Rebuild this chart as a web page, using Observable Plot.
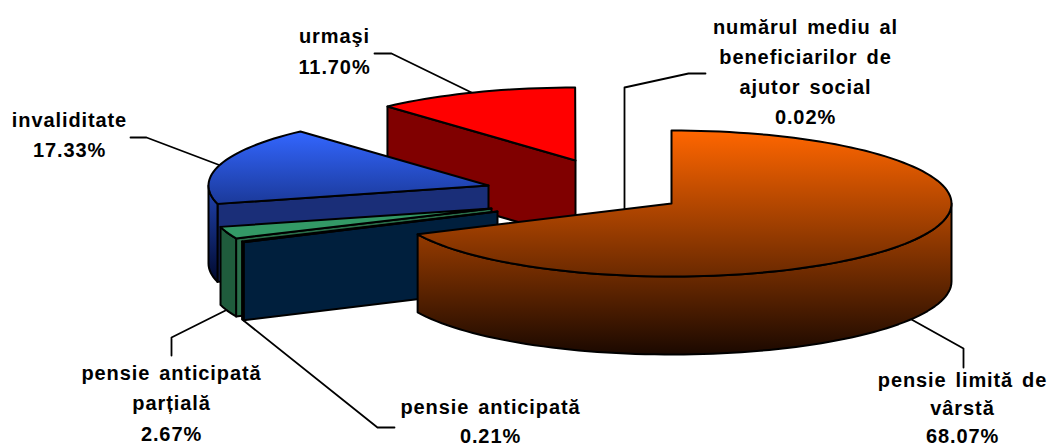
<!DOCTYPE html>
<html><head><meta charset="utf-8">
<script src="https://cdn.jsdelivr.net/npm/d3@7"></script>
<script src="https://cdn.jsdelivr.net/npm/@observablehq/plot@0.6"></script>
<style>html,body{margin:0;padding:0;background:#fff}svg{display:block}svg text{letter-spacing:.9px;word-spacing:2.5px}</style>
</head><body><div id="chart"></div>
<script>
// data, clockwise from the top of the pie
const categories = ["pensie limită de vârstă","pensie anticipată","pensie anticipată parțială","invaliditate","urmași","numărul mediu al beneficiarilor de ajutor social"];
const shares = [68.07,0.21,2.67,17.33,11.70,0.02];
// label lines per slice
const labelLines = [
  ["pensie limită de","vârstă"],
  ["pensie anticipată"],
  ["pensie anticipată","parțială"],
  ["invaliditate"],
  ["urmaşi"],
  ["numărul mediu al","beneficiarilor de","ajutor social"]
];
// layout of the exploded pie
const apexX = [671,497,491,488,575];
const apexY = [203,211,208,185,160];
const radiusX = 280, radiusY = 73, depth = 78;
const topFills = ["url(#gOrange)","#00122a","#339966","url(#gBlue)","#ff0000"];
const faceFills = ["none","#001f3d","#2a6e4a","#1a2e78","#800000"];
const wallFills = ["url(#gOrange)","#001f3d","#1f5c3c","url(#gBlue)","#800000"];
const labelX = [962,490,171,69,334,805];
const labelY = [380,407,373,120,36,27];
const lineGap = [28,29,30.5,30,31,30];
const leaders = [
  [[911,319],[963,348],[963,367]],
  [[243,320],[377,427],[394,427]],
  [[225,310],[171,337],[171,355]],
  [[220,165],[146,137],[130,137]],
  [[473,93],[391,53],[374,53]],
  [[624,210],[624,87],[688,73],[705,73]]
];

const starts = [];
shares.reduce((s,v,i)=>{starts[i]=s;return s+v;},0);
const rad = d => d*3.6*Math.PI/180;
const pt = (i,p) => [apexX[i]+radiusX*Math.sin(rad(p)), apexY[i]-radiusY*Math.cos(rad(p))];
function arc(i,a,b){const n=Math.max(2,Math.ceil(Math.abs(b-a)*3.6/2));return d3.range(n+1).map(k=>pt(i,a+(b-a)*k/n));}
const drop = ps => ps.map(([x,y])=>[x,y+depth]);

const poly = (ps,fill,sw=2) => Plot.line(ps,{x:d=>d[0],y:d=>d[1],fill,stroke:"#000",strokeWidth:sw,strokeLinejoin:"round",curve:"linear-closed"});

function sliceMarks(i){
  const a = starts[i], b = a+shares[i], out = [];
  const ap = [apexX[i],apexY[i]];
  if (a>0){ const p = pt(i,a); out.push(poly([ap,p,[p[0],p[1]+depth],[ap[0],ap[1]+depth]],faceFills[i])); }
  const wa = Math.max(a,25), wb = Math.min(b,75);
  if (wb>wa){ const w = arc(i,wa,wb); out.push(poly([...w,...drop(w).reverse()],wallFills[i])); }
  out.push(poly([ap,...arc(i,a,b)],topFills[i]));
  return out;
}

const defs = () => {
  const d = d3.create("svg:defs");
  const grad = (id,y1,y2,c1,c2) => {
    const g = d.append("linearGradient").attr("id",id).attr("gradientUnits","userSpaceOnUse")
      .attr("x1",0).attr("x2",0).attr("y1",y1).attr("y2",y2);
    g.append("stop").attr("offset",0).attr("stop-color",c1);
    g.append("stop").attr("offset",1).attr("stop-color",c2);
  };
  grad("gOrange",130,355,"#ff6600","#1a0800");
  grad("gBlue",131,283,"#3366ff","#00082a");
  return d.node();
};

const textRows = [];
labelLines.forEach((ls,i)=>{
  const all = [...ls, shares[i].toFixed(2)+"%"];
  all.forEach((t,k)=>textRows.push({t,x:labelX[i],y:labelY[i]+k*lineGap[i]}));
});

const leaderMarks = i => Plot.line(leaders[i],{x:d=>d[0],y:d=>d[1],stroke:"#000",strokeWidth:1.8});

document.getElementById("chart").append(Plot.plot({
  width:1052,height:446,margin:0,
  x:{domain:[0,1052],range:[0,1052],axis:null},
  y:{domain:[0,446],range:[0,446],axis:null},
  style:{background:"#fff"},
  marks:[
    defs,
    leaders.map((_,i)=>leaderMarks(i)),
    sliceMarks(4),sliceMarks(3),sliceMarks(2),sliceMarks(1),sliceMarks(0),
    Plot.text(textRows,{x:"x",y:"y",text:"t",fontFamily:"Liberation Sans",fontWeight:"bold",fontSize:20,fill:"#000",textAnchor:"middle",lineAnchor:"middle"})
  ]
}));
</script></body></html>
